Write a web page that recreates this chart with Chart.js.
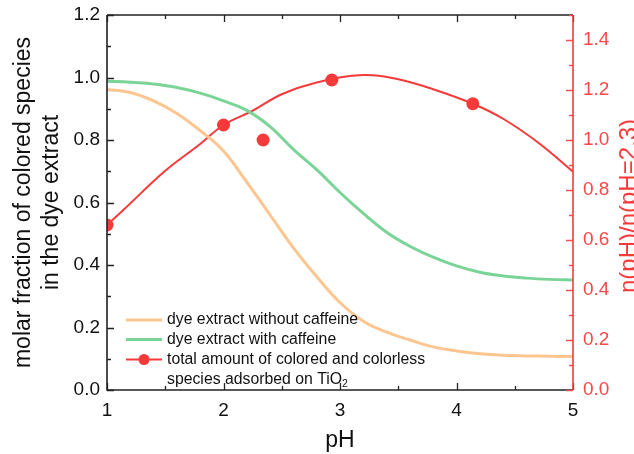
<!DOCTYPE html>
<html>
<head>
<meta charset="utf-8">
<script src="https://cdn.jsdelivr.net/npm/chart.js@4"></script>
<style>
  html, body { margin: 0; padding: 0; background: #fff; }
  #wrap { width: 634px; height: 454px; }
</style>
</head>
<body>
<div id="wrap"><canvas id="chart" width="634" height="454"></canvas></div>
<script>
// values
const phGrid = [1.0, 1.2, 1.4, 1.6, 1.8, 2.0, 2.2, 2.4, 2.6, 2.8, 3.0, 3.2, 3.4, 3.6, 3.8, 4.0, 4.2, 4.4, 4.6, 4.8, 5.0];
const withoutCaffeine = [0.962, 0.952, 0.925, 0.885, 0.830, 0.765, 0.665, 0.560, 0.455, 0.363, 0.280, 0.220, 0.185, 0.160, 0.138, 0.125, 0.116, 0.111, 0.109, 0.108, 0.107];
const withCaffeine = [0.988, 0.985, 0.979, 0.968, 0.950, 0.925, 0.895, 0.843, 0.770, 0.705, 0.632, 0.565, 0.505, 0.460, 0.425, 0.397, 0.377, 0.365, 0.358, 0.354, 0.352];

const fitPh = [1, 1.14, 1.5, 1.8, 2.0, 2.25, 2.5, 2.8, 3.2, 3.5, 3.8, 4.15, 4.4, 4.7, 5];
const fitRatio = [0.66, 0.72, 0.877, 0.984, 1.06, 1.117, 1.183, 1.23, 1.26, 1.243, 1.203, 1.143, 1.085, 0.99, 0.873];

const measuredPh = [1, 2, 2.34, 2.93, 4.14];
const measuredRatio = [0.66, 1.06, 1.0, 1.24, 1.145];

const xTicks = [1, 2, 3, 4, 5];
const leftTicks = [0, 0.2, 0.4, 0.6, 0.8, 1.0, 1.2];
const rightTicks = [0, 0.2, 0.4, 0.6, 0.8, 1.0, 1.2, 1.4];

const legendLabels = [
  'dye extract without caffeine',
  'dye extract with caffeine',
  'total amount of colored and colorless',
  'species adsorbed on TiO'
];

const ORANGE = 'rgb(253,197,143)';
const GREEN = 'rgb(122,212,152)';
const RED = 'rgb(246,58,58)';
const FONT = '"Liberation Sans", Arial, sans-serif';

const zip = (xs, ys) => xs.map((x, i) => ({ x: x, y: ys[i] }));

// fixed axis widths, no extra label padding so the plot box sits where the reference has it
const fitY = w => s => { s.width = w; s.paddingTop = 0; s.paddingBottom = 0; };

// inward ticks, frame, axis titles and legend
const framePlugin = {
  id: 'frame',
  afterDatasetsDraw(chart) {
    const ctx = chart.ctx;
    const { left, right, top, bottom } = chart.chartArea;
    const x = chart.scales.x, y = chart.scales.y, y2 = chart.scales.y2;
    ctx.save();

    // black ticks on x (bottom + top) and left y
    ctx.strokeStyle = '#222';
    ctx.lineWidth = 1.3;
    ctx.beginPath();
    for (let v = 1; v <= 5.001; v += 0.5) {
      const px = Math.round(x.getPixelForValue(v)) + 0.5;
      const len = Math.abs(v - Math.round(v)) < 0.01 ? 7 : 4;
      ctx.moveTo(px, bottom); ctx.lineTo(px, bottom - len);
      ctx.moveTo(px, top); ctx.lineTo(px, top + len);
    }
    for (let v = 0; v <= 1.201; v += 0.1) {
      const py = Math.round(y.getPixelForValue(v)) + 0.5;
      const len = Math.round(v * 10) % 2 === 0 ? 7 : 4;
      ctx.moveTo(left, py); ctx.lineTo(left + len, py);
    }
    ctx.stroke();

    ctx.lineWidth = 1.6;
    ctx.beginPath();
    ctx.moveTo(left, top); ctx.lineTo(left, bottom); ctx.lineTo(right, bottom);
    ctx.moveTo(left, top); ctx.lineTo(right, top);
    ctx.stroke();

    // red right axis
    ctx.strokeStyle = 'rgb(248,80,80)';
    ctx.lineWidth = 1.3;
    ctx.beginPath();
    for (let v = 0; v <= 1.501; v += 0.1) {
      const py = Math.round(y2.getPixelForValue(v)) + 0.5;
      const len = Math.round(v * 10) % 2 === 0 ? 7 : 4;
      ctx.moveTo(right, py); ctx.lineTo(right - len, py);
    }
    ctx.stroke();
    ctx.strokeStyle = RED;
    ctx.lineWidth = 1.6;
    ctx.beginPath();
    ctx.moveTo(right, top); ctx.lineTo(right, bottom);
    ctx.stroke();

    // axis titles
    ctx.fillStyle = '#111';
    ctx.font = '23px ' + FONT;
    ctx.textAlign = 'center';
    ctx.textBaseline = 'middle';
    ctx.fillText('pH', (left + right) / 2, 441);

    const midY = (top + bottom) / 2;
    ctx.save();
    ctx.translate(24, midY);
    ctx.rotate(-Math.PI / 2);
    ctx.fillText('molar fraction of colored species', 0, 0);
    ctx.fillText('in the dye extract', 0, 28);
    ctx.restore();

    ctx.save();
    ctx.fillStyle = RED;
    ctx.font = '24px ' + FONT;
    ctx.translate(629, 206);
    ctx.rotate(-Math.PI / 2);
    ctx.fillText('n(pH)/n(pH=2.3)', 0, 0);
    ctx.restore();

    // legend inside plot, bottom left
    const rows = [320, 339.5, 359.5, 379.5];
    const swatch = [ORANGE, GREEN, RED];
    for (let i = 0; i < 3; i++) {
      ctx.strokeStyle = swatch[i];
      ctx.lineWidth = i < 2 ? 3 : 2;
      ctx.beginPath();
      ctx.moveTo(126, rows[i]); ctx.lineTo(162, rows[i]);
      ctx.stroke();
    }
    ctx.fillStyle = RED;
    ctx.beginPath();
    ctx.arc(144, rows[2], 5.5, 0, Math.PI * 2);
    ctx.fill();

    ctx.fillStyle = '#111';
    ctx.font = '15.8px ' + FONT;
    ctx.textAlign = 'left';
    for (let i = 0; i < legendLabels.length; i++) {
      ctx.fillText(legendLabels[i], 167, rows[i]);
    }
    const w = ctx.measureText(legendLabels[3]).width;
    ctx.font = '10.5px ' + FONT;
    ctx.fillText('2', 167 + w, rows[3] + 5);

    ctx.restore();
  }
};

new Chart(document.getElementById('chart'), {
  type: 'line',
  data: {
    datasets: [
      {
        label: legendLabels[0],
        data: zip(phGrid, withoutCaffeine),
        borderColor: ORANGE,
        borderWidth: 3,
        pointRadius: 0,
        tension: 0.4,
        yAxisID: 'y'
      },
      {
        label: legendLabels[1],
        data: zip(phGrid, withCaffeine),
        borderColor: GREEN,
        borderWidth: 3,
        pointRadius: 0,
        tension: 0.4,
        yAxisID: 'y'
      },
      {
        label: 'fit',
        data: zip(fitPh, fitRatio),
        borderColor: RED,
        borderWidth: 2,
        pointRadius: 0,
        tension: 0.4,
        yAxisID: 'y2'
      },
      {
        label: legendLabels[2],
        data: zip(measuredPh, measuredRatio),
        showLine: false,
        backgroundColor: RED,
        borderColor: RED,
        borderWidth: 0,
        pointRadius: 6.5,
        yAxisID: 'y2'
      }
    ]
  },
  options: {
    responsive: false,
    animation: false,
    layout: { padding: { top: 15, left: 0, right: 0, bottom: 0 } },
    plugins: {
      legend: { display: false },
      tooltip: { enabled: false }
    },
    scales: {
      x: {
        type: 'linear',
        min: 1,
        max: 5,
        afterBuildTicks: s => { s.ticks = xTicks.map(v => ({ value: v })); },
        afterFit: s => { s.height = 64; },
        grid: { display: false, drawTicks: false },
        border: { display: false },
        ticks: { padding: 9, color: '#111', font: { size: 19, family: FONT }, maxRotation: 0 }
      },
      y: {
        position: 'left',
        min: 0,
        max: 1.2,
        afterBuildTicks: s => { s.ticks = leftTicks.map(v => ({ value: v })); },
        afterFit: fitY(107),
        grid: { display: false, drawTicks: false },
        border: { display: false },
        ticks: { padding: 7, color: '#111', font: { size: 19, family: FONT }, callback: v => v.toFixed(1) }
      },
      y2: {
        position: 'right',
        min: 0,
        max: 1.5,
        afterBuildTicks: s => { s.ticks = rightTicks.map(v => ({ value: v })); },
        afterFit: fitY(61),
        grid: { display: false, drawTicks: false },
        border: { display: false },
        ticks: { padding: 10, color: 'rgb(248,72,72)', font: { size: 19, family: FONT }, callback: v => v.toFixed(1) }
      }
    }
  },
  plugins: [framePlugin]
});
</script>
</body>
</html>
